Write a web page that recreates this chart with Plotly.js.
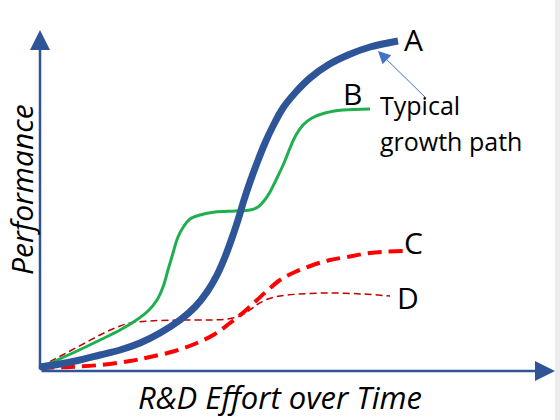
<!DOCTYPE html>
<html>
<head>
<meta charset="utf-8">
<script src="https://cdn.plot.ly/plotly-3.0.1.min.js"></script>
<style>html,body{margin:0;padding:0;background:#fff;}#chart{width:560px;height:420px;}</style>
</head>
<body>
<div id="chart"></div>
<script>
// Curve A: typical growth path (thick blue)
const aEffort = [1, 21, 41, 61, 81, 101, 121, 141, 156, 168, 178, 186, 193, 199, 205, 211, 218, 226, 234, 244, 256, 271, 289, 309, 331, 359];
const aPerf   = [3, 6, 10, 15, 20, 27, 37, 50, 63, 78, 95, 113, 132, 150, 170, 188, 207, 227, 244, 262, 277, 292, 305, 315, 323, 329];
// Curve B: two-step growth (green)
const bEffort = [0, 16, 36, 61, 81, 96, 109, 118, 124, 129, 134, 139, 145, 151, 161, 176, 196, 211, 219, 225, 231, 238, 245, 251, 257, 264, 273, 286, 304, 331];
const bPerf   = [2, 9, 18, 30, 40, 49, 59, 70, 83, 100, 117, 133, 144, 151, 155, 158, 159, 160, 163, 169, 178, 192, 207, 222, 235, 245, 252, 257, 260, 261];
// Curve C: thick red dashed
const cEffort = [1, 31, 61, 91, 111, 136, 158, 176, 191, 206, 218, 229, 241, 256, 274, 291, 308, 331, 364];
const cPerf   = [2, 3, 5, 9, 13, 19, 27, 36, 47, 59, 70, 80, 90, 98, 105, 110, 113, 117, 119];
// Curve D: thin dark-red dashed
const dEffort = [1, 16, 31, 46, 61, 76, 91, 111, 141, 171, 189, 201, 211, 219, 229, 241, 261, 291, 324, 351];
const dPerf   = [3, 11, 19, 27, 35, 42, 47, 49, 50, 50, 51, 54, 60, 66, 71, 74, 76, 77, 76, 74];

const curveLabels = ['A', 'B', 'C', 'D'];
const labelEffort = [374, 313, 374, 369];
const labelPerf   = [331, 277, 128, 73];

const xTitle = 'R&D Effort over Time';
const yTitle = 'Performance';
const noteLines = ['Typical', 'growth path'];

const FONT = 'Open Sans, Liberation Sans, sans-serif';
const AXC = '#2F5597';

const traces = [
  {x: dEffort, y: dPerf, mode: 'lines', line: {color: '#C00000', width: 1.5, dash: '7px,4px', shape: 'spline', smoothing: 1}, hoverinfo: 'skip'},
  {x: cEffort, y: cPerf, mode: 'lines', line: {color: '#FF0000', width: 4, dash: '14px,7px', shape: 'spline', smoothing: 1}, hoverinfo: 'skip'},
  {x: bEffort, y: bPerf, mode: 'lines', line: {color: '#1FAF4F', width: 3, shape: 'spline', smoothing: 1}, hoverinfo: 'skip'},
  {x: aEffort, y: aPerf, mode: 'lines', line: {color: '#2E5597', width: 7, shape: 'spline', smoothing: 1}, hoverinfo: 'skip'}
];

const annotations = [];
// axes arrows
annotations.push({x: 1, y: 340, ax: 1, ay: -1, xref: 'x', yref: 'y', axref: 'x', ayref: 'y', text: '', showarrow: true, arrowhead: 2, arrowsize: 1.6, arrowwidth: 2.5, arrowcolor: AXC});
annotations.push({x: 516, y: -1, ax: 1, ay: -1, xref: 'x', yref: 'y', axref: 'x', ayref: 'y', text: '', showarrow: true, arrowhead: 2, arrowsize: 1.6, arrowwidth: 2.5, arrowcolor: AXC});
// curve labels
curveLabels.forEach((t, i) => annotations.push({x: labelEffort[i], y: labelPerf[i], xref: 'x', yref: 'y', text: t, showarrow: false, font: {family: FONT, size: 30, color: '#000'}, xanchor: 'center', yanchor: 'middle'}));
// note
annotations.push({x: 339, y: 265, xref: 'x', yref: 'y', text: noteLines[0], showarrow: false, xanchor: 'left', yanchor: 'middle', font: {family: FONT, size: 25, color: '#000'}});
annotations.push({x: 339, y: 229, xref: 'x', yref: 'y', text: noteLines[1], showarrow: false, xanchor: 'left', yanchor: 'middle', font: {family: FONT, size: 25, color: '#000'}});
annotations.push({x: 339, y: 319, ax: 388, ay: 271, xref: 'x', yref: 'y', axref: 'x', ayref: 'y', text: '', showarrow: true, arrowhead: 2, arrowsize: 2.5, arrowwidth: 1, arrowcolor: '#4472C4'});
// axis titles
annotations.push({x: 241, y: -27, xref: 'x', yref: 'y', text: '<i>' + xTitle.replace('&', '&amp;') + '</i>', showarrow: false, font: {family: FONT, size: 31, color: '#000'}, xanchor: 'center', yanchor: 'middle'});
annotations.push({x: -18, y: 180, xref: 'x', yref: 'y', text: '<i>' + yTitle + '</i>', textangle: -90, showarrow: false, font: {family: FONT, size: 30, color: '#000'}, xanchor: 'center', yanchor: 'middle'});

const layout = {
  width: 560, height: 420,
  margin: {l: 0, r: 0, t: 0, b: 0},
  paper_bgcolor: '#fff', plot_bgcolor: '#fff',
  showlegend: false,
  xaxis: {range: [-39, 521], visible: false, fixedrange: true},
  yaxis: {range: [-50, 370], visible: false, fixedrange: true},
  annotations: annotations,
  shapes: [{type: 'rect', xref: 'paper', yref: 'paper', x0: 555/560, x1: 1, y0: 0, y1: 1, fillcolor: '#ececec', line: {width: 0}, layer: 'below'}]
};

Plotly.newPlot('chart', traces, layout, {staticPlot: true, displayModeBar: false});
</script>
</body>
</html>
